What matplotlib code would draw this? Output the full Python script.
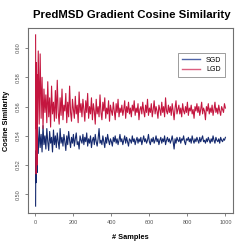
import matplotlib
matplotlib.use("Agg")
import matplotlib.pyplot as plt
from matplotlib.lines import Line2D

plt.rcParams['font.family'] = ['Liberation Sans', 'DejaVu Sans']

samples = list(range(1, 11)) + list(range(15, 1001, 5))

sgd = [
    0.492, 0.525, 0.508, 0.530, 0.518, 0.541, 0.522, 0.535, 0.515, 0.544,
    0.528, 0.546, 0.532, 0.541, 0.529, 0.547, 0.534, 0.540,
    0.531, 0.545, 0.536, 0.530, 0.543, 0.535, 0.539, 0.529, 0.544, 0.534,
    0.540, 0.532, 0.542, 0.536, 0.531, 0.545, 0.535, 0.539, 0.533, 0.541,
    0.536, 0.530, 0.540, 0.534, 0.543, 0.537, 0.532, 0.539, 0.535, 0.541,
    0.533, 0.538, 0.542, 0.534, 0.536, 0.531, 0.540, 0.537, 0.535, 0.541,
    0.534, 0.539, 0.536, 0.542, 0.533, 0.538, 0.535, 0.540, 0.532, 0.537,
    0.539, 0.534, 0.541, 0.536, 0.533, 0.538, 0.545, 0.535, 0.537, 0.534,
    0.540, 0.536, 0.532, 0.539, 0.535, 0.541, 0.537, 0.534, 0.538, 0.536,
    0.533, 0.539, 0.536, 0.540, 0.535, 0.538, 0.534, 0.537, 0.541, 0.536,
    0.538, 0.534, 0.537, 0.540, 0.535, 0.539, 0.536, 0.533, 0.538, 0.537,
    0.535, 0.540, 0.536, 0.538, 0.534, 0.537, 0.539, 0.535, 0.538, 0.536,
    0.539, 0.534, 0.537, 0.540, 0.536, 0.538, 0.535, 0.537, 0.541, 0.536,
    0.534, 0.538, 0.536, 0.539, 0.535, 0.537, 0.540, 0.536, 0.538, 0.534,
    0.537, 0.539, 0.535, 0.538, 0.536, 0.540, 0.534, 0.537, 0.539, 0.536,
    0.538, 0.535, 0.537, 0.540, 0.536, 0.531, 0.538, 0.535, 0.539, 0.537,
    0.536, 0.539, 0.535, 0.538, 0.537, 0.540, 0.536, 0.534, 0.538, 0.537,
    0.539, 0.536, 0.538, 0.535, 0.540, 0.537, 0.535, 0.538, 0.536, 0.539,
    0.537, 0.535, 0.539, 0.536, 0.538, 0.540, 0.536, 0.537, 0.535, 0.538,
    0.536, 0.539, 0.537, 0.535, 0.538, 0.536, 0.540, 0.537, 0.535, 0.539,
    0.537, 0.536, 0.538, 0.535, 0.539, 0.537, 0.536, 0.538, 0.537, 0.539,
]

lgd = [
    0.609, 0.545, 0.578, 0.514, 0.590, 0.530, 0.582, 0.520, 0.575, 0.540,
    0.598, 0.548, 0.596, 0.552, 0.580, 0.545, 0.572, 0.556,
    0.568, 0.549, 0.577, 0.553, 0.566, 0.546, 0.574, 0.555, 0.563, 0.550,
    0.571, 0.552, 0.578, 0.556, 0.548, 0.566, 0.554, 0.572, 0.551, 0.561,
    0.557, 0.569, 0.549, 0.563, 0.553, 0.574, 0.556, 0.550, 0.565, 0.558,
    0.552, 0.567, 0.555, 0.561, 0.549, 0.570, 0.556, 0.562, 0.553, 0.565,
    0.558, 0.550, 0.564, 0.556, 0.569, 0.552, 0.560, 0.555, 0.566, 0.551,
    0.562, 0.557, 0.548, 0.565, 0.555, 0.560, 0.553, 0.568, 0.556, 0.551,
    0.563, 0.557, 0.566, 0.552, 0.559, 0.555, 0.564, 0.550, 0.561, 0.557,
    0.554, 0.563, 0.557, 0.551, 0.562, 0.556, 0.565, 0.553, 0.559, 0.556,
    0.561, 0.554, 0.558, 0.564, 0.552, 0.560, 0.556, 0.563, 0.555, 0.559,
    0.553, 0.561, 0.557, 0.564, 0.554, 0.559, 0.556, 0.562, 0.551, 0.558,
    0.560, 0.555, 0.563, 0.557, 0.553, 0.561, 0.556, 0.565, 0.554, 0.559,
    0.556, 0.562, 0.553, 0.558, 0.564, 0.555, 0.560, 0.557, 0.552, 0.561,
    0.558, 0.554, 0.563, 0.556, 0.560, 0.553, 0.566, 0.557, 0.555, 0.561,
    0.556, 0.560, 0.554, 0.562, 0.557, 0.551, 0.559, 0.564, 0.555, 0.558,
    0.561, 0.555, 0.559, 0.553, 0.562, 0.557, 0.555, 0.560, 0.556, 0.563,
    0.554, 0.559, 0.557, 0.561, 0.555, 0.558, 0.552, 0.560, 0.557, 0.562,
    0.556, 0.560, 0.554, 0.558, 0.563, 0.555, 0.559, 0.557, 0.551, 0.560,
    0.557, 0.562, 0.555, 0.559, 0.556, 0.561, 0.554, 0.558, 0.563, 0.556,
    0.559, 0.555, 0.561, 0.557, 0.554, 0.560, 0.558, 0.556, 0.562, 0.559,
]

series_names = ["SGD", "LGD"]
series_colors = ["#14296e", "#c4163f"]
legend_colors = ["#4f64a8", "#dc5f80"]
xticks = [0, 200, 400, 600, 800, 1000]
yticks = [0.50, 0.52, 0.54, 0.56, 0.58, 0.60]

W = 249
fig = plt.figure(figsize=(2.49, 2.49), dpi=100)
ax = fig.add_axes([28 / W, 36 / W, 205 / W, 185 / W])

ax.plot(samples, sgd, color=series_colors[0], lw=0.8)
ax.plot(samples, lgd, color=series_colors[1], lw=0.8)

ax.set_xlim(-39, 1040)
ax.set_ylim(0.4873, 0.6137)
ax.set_xticks(xticks)
ax.set_xticklabels([str(t) for t in xticks])
ax.set_yticks(yticks)
ax.set_yticklabels(["%.2f" % t for t in yticks], rotation=90, va='center')

gray = "#707070"
for s in ax.spines.values():
    s.set_color(gray)
    s.set_linewidth(0.8)
ax.tick_params(axis='both', colors=gray, labelcolor="#555555", labelsize=4,
               length=2.5, width=0.6, pad=2.5, direction='out')

handles = [Line2D([], [], color=c, lw=1.0) for c in legend_colors]
leg = ax.legend(handles, series_names, loc='upper right',
                bbox_to_anchor=(0.98, 0.885), fontsize=5,
                frameon=True, fancybox=False, handlelength=2.6,
                borderpad=0.6, labelspacing=0.3, handletextpad=0.8)
leg.get_frame().set_edgecolor("#707070")
leg.get_frame().set_linewidth(0.6)

fig.text(0.528, 0.94, "PredMSD Gradient Cosine Similarity", ha='center',
         va='center', fontsize=8.2, fontweight='bold')
fig.text(130.5 / W, 12 / W, "# Samples", ha='center', va='center',
         fontsize=5.3, fontweight='bold')
fig.text(7 / W, 128.5 / W, "Cosine Similarity", ha='center', va='center',
         fontsize=5.3, fontweight='bold', rotation=90)

fig.savefig("out.png", dpi=100)
